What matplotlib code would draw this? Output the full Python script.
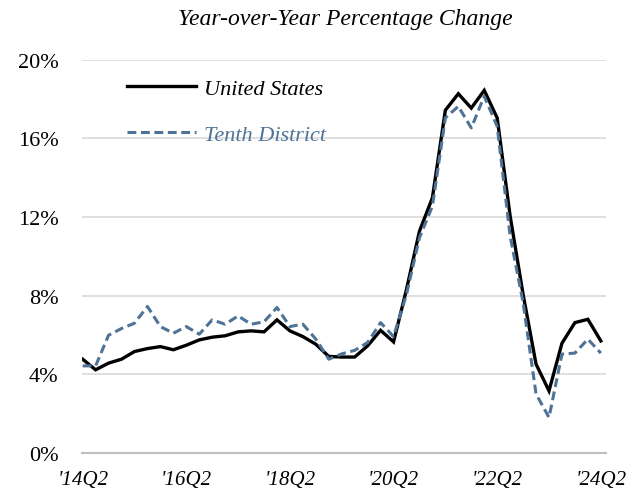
import matplotlib
matplotlib.use("Agg")
import matplotlib.pyplot as plt
from matplotlib.ticker import FuncFormatter, MultipleLocator

quarters = [f"'{y % 100:02d}Q{q}" for y in range(2014, 2025) for q in range(1, 5)][1:42]
us = [4.77, 4.23, 4.57, 4.77, 5.16, 5.31, 5.41, 5.25, 5.48, 5.75, 5.89, 5.96, 6.16, 6.21,
      6.16, 6.77, 6.21, 5.92, 5.53, 4.91, 4.88, 4.88, 5.45, 6.24, 5.65, 8.32, 11.28, 12.98,
      17.43, 18.27, 17.54, 18.44, 17.04, 12.05, 8.07, 4.52, 3.16, 5.58, 6.63, 6.80, 5.70]
tenth = [4.43, 4.43, 5.99, 6.33, 6.60, 7.45, 6.43, 6.09, 6.43, 6.04, 6.77, 6.55, 6.97, 6.55,
         6.67, 7.40, 6.43, 6.55, 5.79, 4.77, 5.04, 5.22, 5.62, 6.63, 5.92, 8.07, 10.95, 12.55,
         17.04, 17.63, 16.53, 18.14, 16.61, 11.03, 7.65, 3.00, 1.81, 5.03, 5.08, 5.79, 5.08]
tick_labels = ["'14Q2", "'16Q2", "'18Q2", "'20Q2", "'22Q2", "'24Q2"]

blue = "#4E7397"
serif = ["Liberation Serif", "DejaVu Serif"]

fig = plt.figure(figsize=(6.41, 5.02), dpi=100)
ax = fig.add_axes([82 / 641, 48 / 502, (606 - 82) / 641, (454 - 60.7) / 502])

x = list(range(len(quarters)))
ax.plot(x, us, color="black", lw=2.4, label="United States", solid_joinstyle="miter")
ax.plot(x, tenth, color=blue, lw=2.2, ls=(0, (2.9, 1.5)), label="Tenth District")

ax.set_ylim(0, 20)
ax.set_xlim(-0.05, 40.4)
ax.yaxis.set_major_locator(MultipleLocator(4))
ax.yaxis.set_major_formatter(FuncFormatter(lambda v, p: f"{v:.0f}%"))
ax.grid(axis="y", color="#d9d9d9", lw=1.2)
ax.set_axisbelow(True)
for s in ["top", "right", "left"]:
    ax.spines[s].set_visible(False)
ax.spines["bottom"].set_color("#bfbfbf")
ax.spines["bottom"].set_linewidth(1.5)

tick_pos = [quarters.index(t) for t in tick_labels]
ax.set_xticks(tick_pos)
ax.set_xticklabels(tick_labels, fontfamily=serif, fontstyle="italic", fontsize=15)
ax.tick_params(axis="both", length=0)
ax.tick_params(axis="x", pad=12)
ax.tick_params(axis="y", pad=17)
for lab in ax.get_yticklabels():
    lab.set_fontfamily(serif)
    lab.set_fontsize(16)

fig.text(345 / 641, 1 - 20 / 502, "Year-over-Year Percentage Change", ha="center", va="center",
         fontfamily=serif, fontstyle="italic", fontsize=17)

leg = ax.legend(loc="upper left", bbox_to_anchor=(0.047, 1.003), frameon=False,
                prop={"family": serif, "style": "italic", "size": 16},
                handlelength=3.1, labelspacing=1.12, handletextpad=0.4,
                labelcolor="linecolor")

fig.savefig("out.png", dpi=100)
